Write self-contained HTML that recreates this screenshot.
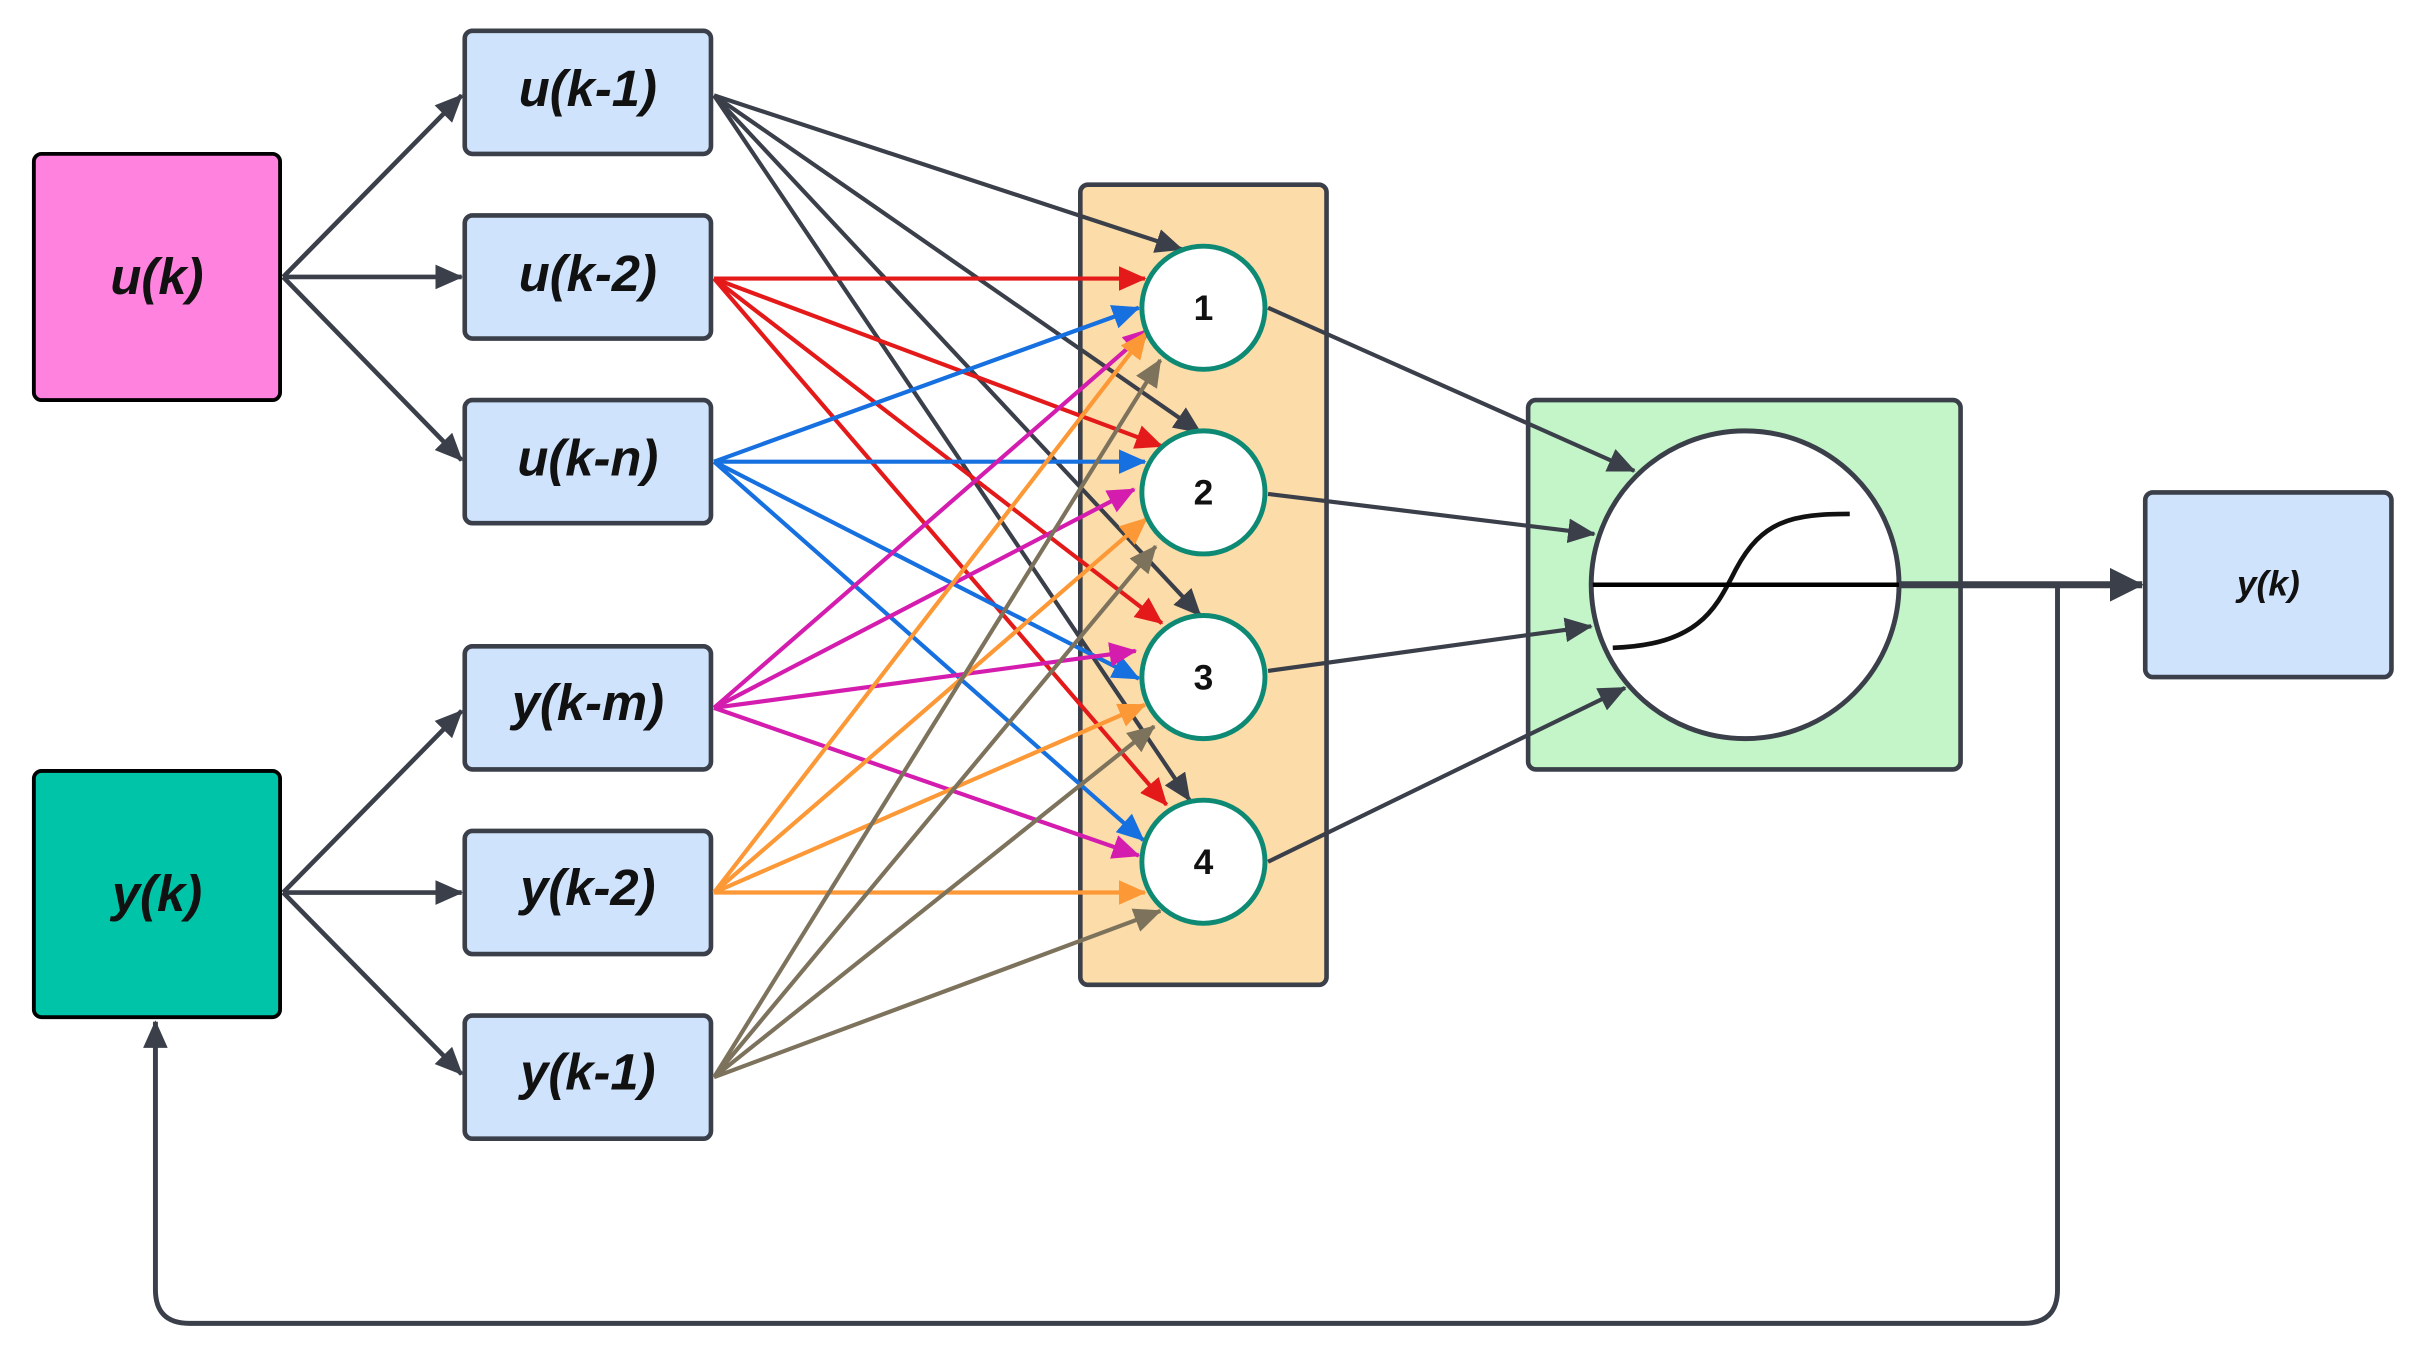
<!DOCTYPE html>
<html><head><meta charset="utf-8"><style>
html,body{margin:0;padding:0;background:#fff;}
svg{display:block;}
text{font-family:"Liberation Sans Narrow","Liberation Sans",sans-serif;font-weight:bold;font-style:italic;fill:#111;}
.n{font-family:"Liberation Sans",sans-serif;font-style:normal;font-size:23px;}
</style></head><body>
<svg width="2413" height="1372" viewBox="0 0 1568 891.6" preserveAspectRatio="none" xmlns="http://www.w3.org/2000/svg">
<defs>
<marker id="mk" markerUnits="userSpaceOnUse" markerWidth="18" markerHeight="16" refX="17" refY="8" orient="auto"><path d="M0,0 L18,8 L0,16 z" fill="#3a3f4a"/></marker>
<marker id="mr" markerUnits="userSpaceOnUse" markerWidth="18" markerHeight="16" refX="17" refY="8" orient="auto"><path d="M0,0 L18,8 L0,16 z" fill="#e41a1a"/></marker>
<marker id="mb" markerUnits="userSpaceOnUse" markerWidth="18" markerHeight="16" refX="17" refY="8" orient="auto"><path d="M0,0 L18,8 L0,16 z" fill="#1670e0"/></marker>
<marker id="mm" markerUnits="userSpaceOnUse" markerWidth="18" markerHeight="16" refX="17" refY="8" orient="auto"><path d="M0,0 L18,8 L0,16 z" fill="#d41cae"/></marker>
<marker id="mo" markerUnits="userSpaceOnUse" markerWidth="18" markerHeight="16" refX="17" refY="8" orient="auto"><path d="M0,0 L18,8 L0,16 z" fill="#fd9836"/></marker>
<marker id="mw" markerUnits="userSpaceOnUse" markerWidth="18" markerHeight="16" refX="17" refY="8" orient="auto"><path d="M0,0 L18,8 L0,16 z" fill="#7d725c"/></marker>
<marker id="mK" markerUnits="userSpaceOnUse" markerWidth="22" markerHeight="22" refX="21" refY="11" orient="auto"><path d="M0,0 L22,11 L0,22 z" fill="#3a3f4a"/></marker>
</defs>

<rect x="702" y="120" width="160" height="520" rx="5" fill="#fcdca8" stroke="#3a3f4a" stroke-width="3"/>
<rect x="993" y="260" width="281" height="240" rx="5" fill="#c3f5c8" stroke="#3a3f4a" stroke-width="3"/>

<rect x="22" y="100" width="160" height="160" rx="5" fill="#ff82de" stroke="#000" stroke-width="2.5"/>
<text x="102" y="191" font-size="33" text-anchor="middle">u(k)</text>
<rect x="22" y="501" width="160" height="160" rx="5" fill="#00c4a7" stroke="#000" stroke-width="2.5"/>
<text x="102" y="592" font-size="33" text-anchor="middle">y(k)</text>

<g fill="#cfe3fc" stroke="#3a3f4a" stroke-width="3">
<rect x="302" y="20" width="160" height="80" rx="5"/>
<rect x="302" y="140" width="160" height="80" rx="5"/>
<rect x="302" y="260" width="160" height="80" rx="5"/>
<rect x="302" y="420" width="160" height="80" rx="5"/>
<rect x="302" y="540" width="160" height="80" rx="5"/>
<rect x="302" y="660" width="160" height="80" rx="5"/>
<rect x="1394" y="320" width="160" height="120" rx="5"/>
</g>
<g font-size="33" text-anchor="middle">
<text x="382" y="69">u(k-1)</text>
<text x="382" y="189">u(k-2)</text>
<text x="382" y="309">u(k-n)</text>
<text x="382" y="468">y(k-m)</text>
<text x="382" y="588">y(k-2)</text>
<text x="382" y="708">y(k-1)</text>
<text x="1474" y="387" font-size="23">y(k)</text>
</g>

<g stroke="#3a3f4a" stroke-width="3" fill="none" marker-end="url(#mk)">
<line x1="184" y1="180" x2="300" y2="62"/>
<line x1="184" y1="180" x2="300" y2="180"/>
<line x1="184" y1="180" x2="300" y2="299"/>
<line x1="184" y1="580" x2="300" y2="462"/>
<line x1="184" y1="580" x2="300" y2="580"/>
<line x1="184" y1="580" x2="300" y2="698"/>
</g>

<g stroke-width="2.7" fill="none">
<g stroke="#3a3f4a" marker-end="url(#mk)">
<line x1="464" y1="62" x2="768" y2="162"/>
<line x1="464" y1="62" x2="780" y2="281"/>
<line x1="464" y1="62" x2="780" y2="400"/>
<line x1="464" y1="62" x2="773" y2="520"/>
</g>
<g stroke="#e41a1a" marker-end="url(#mr)">
<line x1="464" y1="181" x2="744" y2="181"/>
<line x1="464" y1="181" x2="755" y2="290"/>
<line x1="464" y1="181" x2="755" y2="405"/>
<line x1="464" y1="181" x2="758" y2="523"/>
</g>
<g stroke="#1670e0" marker-end="url(#mb)">
<line x1="464" y1="300" x2="740" y2="200"/>
<line x1="464" y1="300" x2="744" y2="300"/>
<line x1="464" y1="300" x2="740" y2="441"/>
<line x1="464" y1="300" x2="743" y2="546"/>
</g>
<g stroke="#d41cae" marker-end="url(#mm)">
<line x1="464" y1="460" x2="747" y2="214"/>
<line x1="464" y1="460" x2="737" y2="318"/>
<line x1="464" y1="460" x2="738" y2="423"/>
<line x1="464" y1="460" x2="740" y2="556"/>
</g>
<g stroke="#fd9836" marker-end="url(#mo)">
<line x1="464" y1="580" x2="745" y2="216"/>
<line x1="464" y1="580" x2="745" y2="337"/>
<line x1="464" y1="580" x2="744" y2="458"/>
<line x1="464" y1="580" x2="744" y2="580"/>
</g>
<g stroke="#7d725c" marker-end="url(#mw)">
<line x1="464" y1="700" x2="754" y2="234"/>
<line x1="464" y1="700" x2="751" y2="355"/>
<line x1="464" y1="700" x2="750" y2="472"/>
<line x1="464" y1="700" x2="754" y2="592"/>
</g>
<g stroke="#3a3f4a" marker-end="url(#mk)">
<line x1="824" y1="200" x2="1062" y2="306"/>
<line x1="824" y1="321" x2="1036" y2="347"/>
<line x1="824" y1="436" x2="1034" y2="407"/>
<line x1="824" y1="560" x2="1056" y2="447"/>
</g>
</g>

<g fill="#fff" stroke="#0e8a74" stroke-width="3.2">
<circle cx="782" cy="200" r="40"/>
<circle cx="782" cy="320" r="40"/>
<circle cx="782" cy="440" r="40"/>
<circle cx="782" cy="560" r="40"/>
</g>
<text class="n" x="782" y="208" text-anchor="middle">1</text>
<text class="n" x="782" y="328" text-anchor="middle">2</text>
<text class="n" x="782" y="448" text-anchor="middle">3</text>
<text class="n" x="782" y="568" text-anchor="middle">4</text>

<circle cx="1134" cy="380" r="100" fill="#fff" stroke="#3a3f4a" stroke-width="3.2"/>
<path d="M1048,421 C1105,419 1115,395 1128,370 C1145,338 1165,334 1202,334" fill="none" stroke="#111" stroke-width="3"/>
<line x1="1035" y1="380" x2="1234" y2="380" stroke="#000" stroke-width="3"/>

<line x1="1234" y1="380" x2="1392" y2="380" stroke="#3a3f4a" stroke-width="4.5" marker-end="url(#mK)"/>
<path d="M1337,381 L1337,838 Q1337,860 1315,860 L123,860 Q101,860 101,838 L101,664" fill="none" stroke="#3a3f4a" stroke-width="3.2" marker-end="url(#mk)"/>
</svg>
</body></html>
